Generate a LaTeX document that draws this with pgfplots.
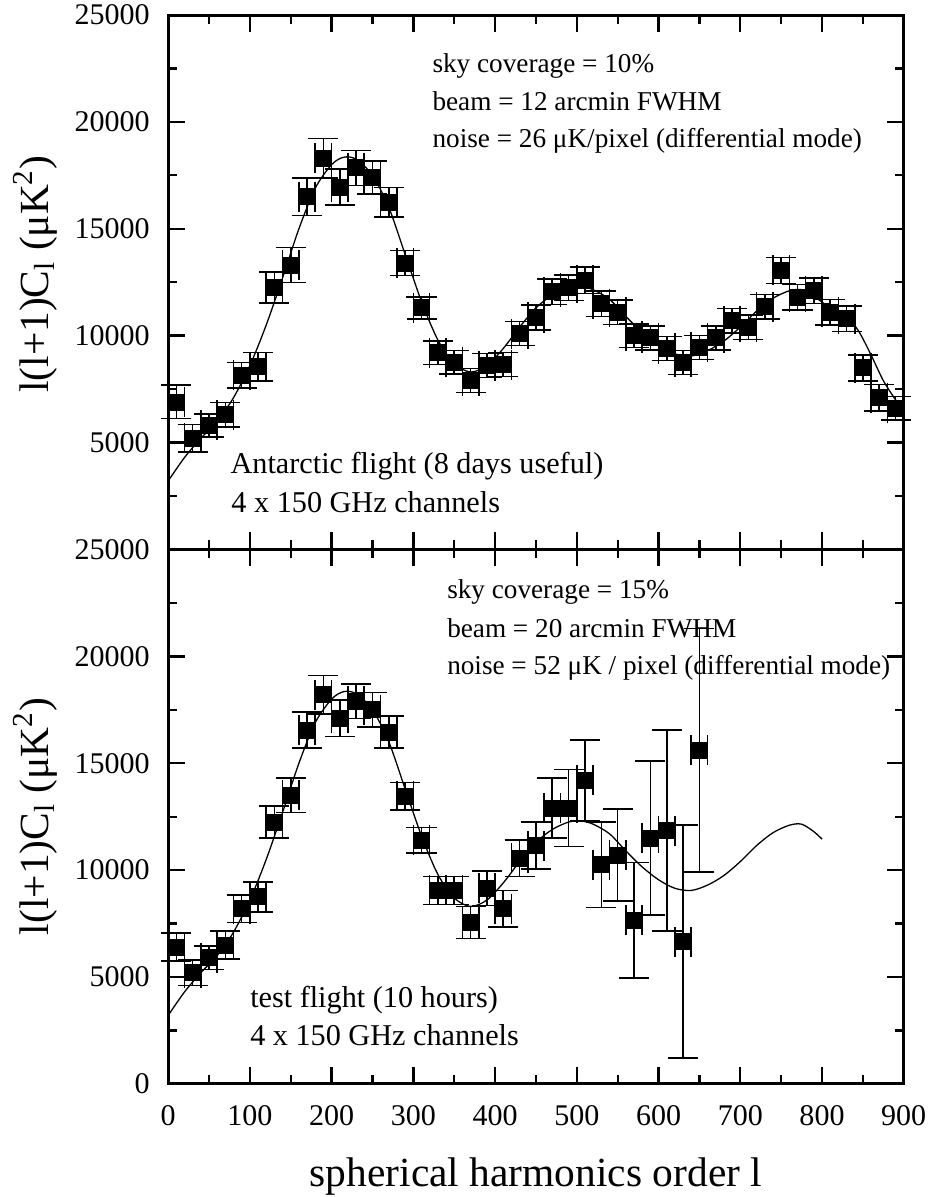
\documentclass[border=0pt]{standalone}
\usepackage{fontspec}
\setmainfont{Liberation Serif}
\usepackage{pgfplots}
\pgfplotsset{compat=1.18}
\usepackage{pgfplotstable}

% Antarctic flight band powers: l, value, x error, y error
\pgfplotstableread{
l   v      ex  ey
10  6900   10  780
30  5200   10  640
50  5800   10  550
70  6300   10  580
90  8150   10  600
110 8550   10  670
130 12250  10  730
150 13300  10  820
170 16500  10  870
190 18300  10  920
210 16950  10  850
230 17850  10  820
250 17400  10  780
270 16250  10  690
290 13400  10  580
310 11300  10  520
330 9200   10  550
350 8750   10  550
370 7900   10  560
390 8600   10  560
410 8650   10  560
430 10100  10  560
450 10850  10  580
470 12050  10  600
490 12250  10  600
510 12600  10  620
530 11500  10  600
550 11100  10  580
570 10000  10  560
590 9900   10  560
610 9400   10  560
630 8750   10  560
650 9450   10  560
670 9900   10  560
690 10700  10  580
710 10400  10  580
730 11350  10  580
750 13050  10  600
770 11800  10  600
790 12100  10  600
810 11100  10  600
830 10800  10  600
850 8500   10  610
870 7100   10  620
890 6600   10  550
}\antarctic

% test flight band powers
\pgfplotstableread{
l   v      ex  ey
10  6400   10  650
30  5200   10  600
50  5900   10  550
70  6500   10  650
90  8200   10  650
110 8750   10  700
130 12250  10  750
150 13500  10  800
170 16550  10  850
190 18200  10  900
210 17100  10  850
230 17900  10  800
250 17500  10  800
270 16450  10  750
290 13450  10  650
310 11400  10  600
330 9050   10  650
350 9050   10  650
370 7550   10  750
390 9150   10  800
410 8200   10  850
430 10550  10  850
450 11150  10  1100
470 12900  10  1400
490 12900  10  1800
510 14200  10  1900
530 10250  10  2000
550 10700  10  2150
570 7650   10  2700
590 11500  10  3600
610 11850  10  4700
630 6650   10  5450
650 15600  10  5700
}\testflight

% model spectrum
\pgfplotstableread{
l   v
0   3200
20  4300
40  5200
60  6000
80  7100
100 8600
120 10500
140 12700
160 15000
180 16900
200 18000
215 18350
230 18250
250 17500
270 16000
290 13800
310 11600
330 9800
350 8700
370 8300
390 8600
410 9400
430 10400
450 11300
470 11900
490 12250
505 12300
520 12150
540 11700
560 10900
580 10150
600 9550
620 9150
640 9050
660 9300
680 9750
700 10400
720 11150
740 11750
760 12100
775 12150
790 11850
810 11300
830 10900
845 10200
860 9100
875 7900
890 7000
900 6500
}\modeltop

\pgfplotstableread{
l   v
0   3200
20  4300
40  5200
60  6000
80  7100
100 8600
120 10500
140 12700
160 15000
180 16900
200 18000
215 18350
230 18250
250 17500
270 16000
290 13800
310 11600
330 9800
350 8700
370 8300
390 8600
410 9400
430 10400
450 11300
470 11900
490 12250
505 12300
520 12150
540 11700
560 10900
580 10150
600 9550
620 9150
640 9050
660 9300
680 9750
700 10400
720 11150
740 11750
760 12100
775 12150
790 11800
800 11450
}\modelbot

\pgfplotsset{
  panel/.style={
    width=367.5pt, height=267pt, scale only axis,
    xmin=0, xmax=900, ymin=0, ymax=25000,
    xtick={0,100,...,900}, minor xtick={50,150,...,850},
    minor ytick={2500,7500,12500,17500,22500},
    tick align=inside, xtick pos=both, ytick pos=both,
    major tick length=8.5pt, minor tick length=4.5pt,
    major tick style={line width=1.2pt, black},
    minor tick style={line width=1.1pt, black},
    axis line style={line width=1.5pt},
    scaled y ticks=false,
    /pgf/number format/assume math mode=true,
    /pgf/number format/1000 sep={},
    tick label style={font=\fontsize{15pt}{17pt}\selectfont},
    yticklabel style={inner sep=0pt, xshift=-9pt},
    xticklabel style={inner sep=0pt, yshift=-10.5pt},
    ylabel={l(l+1)C\textsubscript{l} (μK\textsuperscript{2})},
    ylabel style={font=\fontsize{20.7pt}{24pt}\selectfont, anchor=base, yshift=60pt},
    clip=false,
  },
  pts/.style={only marks, mark=square*, mark size=4pt, black,
    error bars/.cd, x dir=both, x explicit, y dir=both, y explicit,
    error bar style={line width=0.8pt, black},
    error mark options={rotate=90, mark size=7.5pt, line width=0.8pt, black}},
}
\tikzset{txt/.style={anchor=base west, inner sep=0pt}}

\begin{document}
\begin{tikzpicture}
\begin{axis}[panel, at={(0,0)}, anchor=south west,
  ytick={5000,10000,15000,20000,25000}, xticklabels={},
  ylabel style={at={(axis description cs:0,0.515)}}]
\addplot[black, line width=0.65pt, smooth] table[x=l, y=v] {\modeltop};
\addplot[pts] table[x=l, y=v, x error=ex, y error=ey] {\antarctic};
\node[txt, font=\fontsize{13.6pt}{16pt}\selectfont] at (axis cs:323,22290) {sky coverage = 10\%};
\node[txt, font=\fontsize{13.6pt}{16pt}\selectfont] at (axis cs:323,20550) {beam = 12 arcmin FWHM};
\node[txt, font=\fontsize{13.6pt}{16pt}\selectfont] at (axis cs:323,18780) {noise = 26 μK/pixel (differential mode)};
\node[txt, font=\fontsize{15.1pt}{18pt}\selectfont] at (axis cs:76,3560) {Antarctic flight (8 days useful)};
\node[txt, font=\fontsize{15.1pt}{18pt}\selectfont] at (axis cs:77,1730) {4 x 150 GHz channels};
\end{axis}

\begin{axis}[panel, at={(0,0)}, anchor=north west,
  ytick={0,5000,10000,15000,20000,25000},
  ylabel style={at={(axis description cs:0,0.5)}},
  xlabel={spherical harmonics order l},
  xlabel style={font=\fontsize{20.7pt}{24pt}\selectfont, at={(axis description cs:0.5,0)}, anchor=base, yshift=-51.5pt}]
\addplot[black, line width=0.65pt, smooth] table[x=l, y=v] {\modelbot};
\addplot[pts] table[x=l, y=v, x error=ex, y error=ey] {\testflight};
\node[txt, font=\fontsize{13.6pt}{16pt}\selectfont] at (axis cs:341,22710) {sky coverage = 15\%};
\node[txt, font=\fontsize{13.6pt}{16pt}\selectfont] at (axis cs:341,20880) {beam = 20 arcmin FWHM};
\node[txt, font=\fontsize{13.6pt}{16pt}\selectfont] at (axis cs:341,19150) {noise = 52 μK / pixel (differential mode)};
\node[txt, font=\fontsize{15.1pt}{18pt}\selectfont] at (axis cs:100,3560) {test flight (10 hours)};
\node[txt, font=\fontsize{15.1pt}{18pt}\selectfont] at (axis cs:100,1800) {4 x 150 GHz channels};
\end{axis}
\pgfresetboundingbox
\path (-84pt,-323.5pt) rectangle (385pt,274.5pt);
\end{tikzpicture}
\end{document}
